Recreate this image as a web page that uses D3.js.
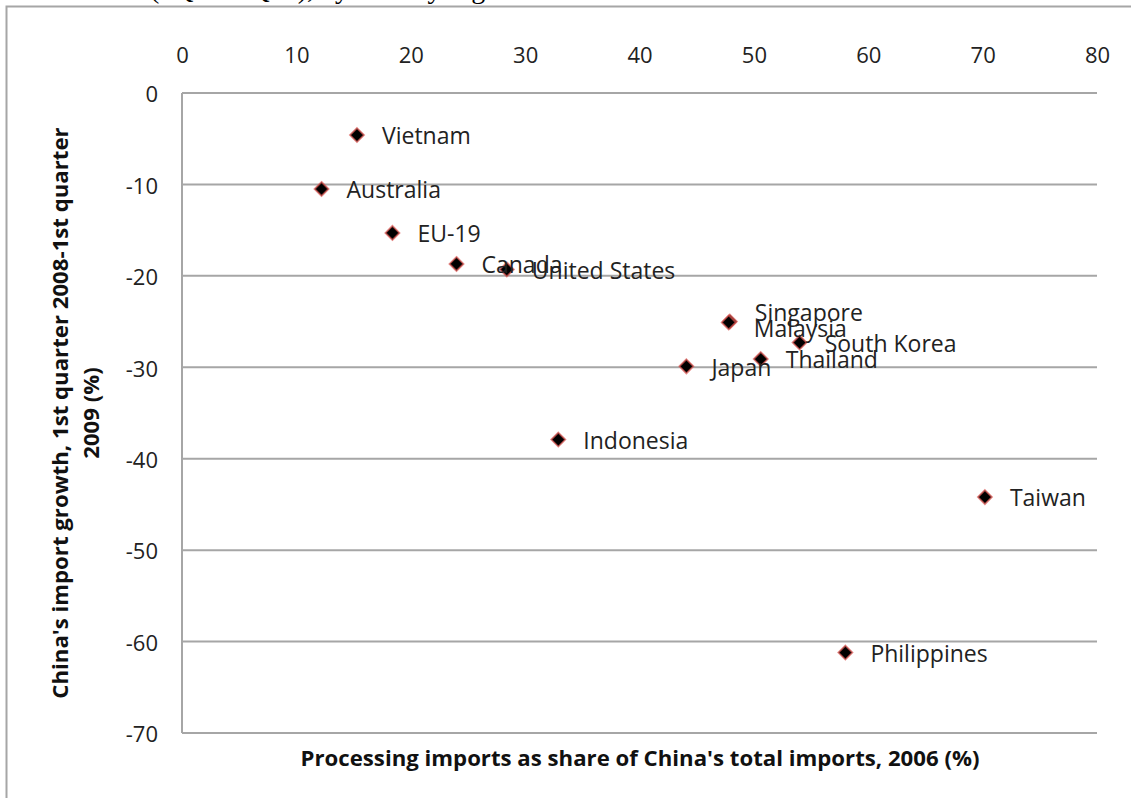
<!DOCTYPE html>
<html><head><meta charset="utf-8">
<script src="https://cdn.jsdelivr.net/npm/d3@7"></script>
<style>body{margin:0;background:#fff;overflow:hidden}svg{display:block}</style>
</head><body>
<svg id="c" width="1131" height="798"></svg>
<script>
const countries = ["Vietnam","Australia","EU-19","Canada","United States","Singapore","Malaysia","South Korea","Thailand","Japan","Indonesia","Taiwan","Philippines"];
const processingShare = [15.3,12.2,18.4,24.0,28.4,47.9,47.8,54.0,50.6,44.1,32.9,70.2,58.0];
const importGrowth = [-4.6,-10.5,-15.3,-18.7,-19.3,-25.0,-25.1,-27.3,-29.1,-29.9,-37.9,-44.2,-61.2];
const xTicks = [0,10,20,30,40,50,60,70,80];
const yTicks = [0,-10,-20,-30,-40,-50,-60,-70];
const xTitle = "Processing imports as share of China's total imports, 2006 (%)";
const yTitle = ["China's import growth, 1st quarter 2008-1st quarter","2009 (%)"];
const topText = "(1Q08–1Q09), by country/region";

const svg = d3.select("#c");
const font = "'Open Sans', sans-serif";
const grid = "#a6a6a6";
const fmt = d => String(d).replace("−","-");

// partial heading above the frame (cut off in the original)
svg.append("text").attr("x",150).attr("y",-2).attr("font-family","'Liberation Serif', serif")
  .attr("font-size",28).attr("fill","#000").text(topText);

// outer frame
svg.append("path").attr("d","M1131,6.5 H6.5 V798").attr("fill","none").attr("stroke",grid).attr("stroke-width",2);

const x = d3.scaleLinear().domain([0,80]).range([182,1097]);
const y = d3.scaleLinear().domain([0,-70]).range([93,733]);

// horizontal gridlines
svg.append("g").selectAll("line").data(yTicks).join("line")
  .attr("x1",x(0)).attr("x2",x(80)).attr("y1",d=>y(d)).attr("y2",d=>y(d))
  .attr("stroke",grid).attr("stroke-width",2);
// vertical axis line
svg.append("line").attr("x1",x(0)).attr("x2",x(0)).attr("y1",y(0)).attr("y2",y(-70))
  .attr("stroke",grid).attr("stroke-width",2);

// x axis labels (top)
const xa = svg.append("g").attr("transform",`translate(0,${y(0)-38})`)
  .call(d3.axisTop(x).tickValues(xTicks).tickSize(0).tickPadding(0).tickFormat(fmt));
xa.select(".domain").remove();
xa.selectAll("text").attr("font-family",font).attr("font-size",22).attr("fill","#222").attr("dy","0.35em");

// y axis labels
const ya = svg.append("g").attr("transform",`translate(${x(0)-24},0)`)
  .call(d3.axisLeft(y).tickValues(yTicks).tickSize(0).tickPadding(0).tickFormat(fmt));
ya.select(".domain").remove();
ya.selectAll("text").attr("font-family",font).attr("font-size",22).attr("fill","#222").attr("dy","0.4em");

// titles
svg.append("text").attr("x",640).attr("y",760).attr("text-anchor","middle").attr("dominant-baseline","middle")
  .attr("font-family",font).attr("font-weight","bold").attr("font-size",22.2).attr("fill","#111").text(xTitle);
const yt = svg.append("text").attr("transform","translate(60,413) rotate(-90)").attr("text-anchor","middle")
  .attr("font-family",font).attr("font-weight","bold").attr("font-size",22.2).attr("fill","#111");
yt.selectAll("tspan").data(yTitle).join("tspan").attr("x",0).attr("dy",(d,i)=>i===0?"0.35em":"1.4em").text(d=>d);

// markers
const pts = countries.map((c,i)=>({c, vx:processingShare[i], vy:importGrowth[i]}));
const diamond = d3.symbol().type(d3.symbolDiamond2).size(125);
svg.append("g").selectAll("path").data(pts).join("path")
  .attr("transform",d=>`translate(${x(d.vx)},${y(d.vy)})`)
  .attr("d",diamond).attr("fill","#000").attr("stroke","#d9534f").attr("stroke-width",1.8).attr("stroke-opacity",0.7);

// labels (Singapore/Malaysia labels were moved apart in the original)
const labelDy = {"Singapore":-10,"Malaysia":5};
svg.append("g").selectAll("text").data(pts).join("text")
  .attr("x",d=>x(d.vx)+25).attr("y",d=>y(d.vy)+3+(labelDy[d.c]||0))
  .attr("dominant-baseline","middle")
  .attr("font-family",font).attr("font-size",23).attr("fill","#222").text(d=>d.c);
</script>
</body></html>
